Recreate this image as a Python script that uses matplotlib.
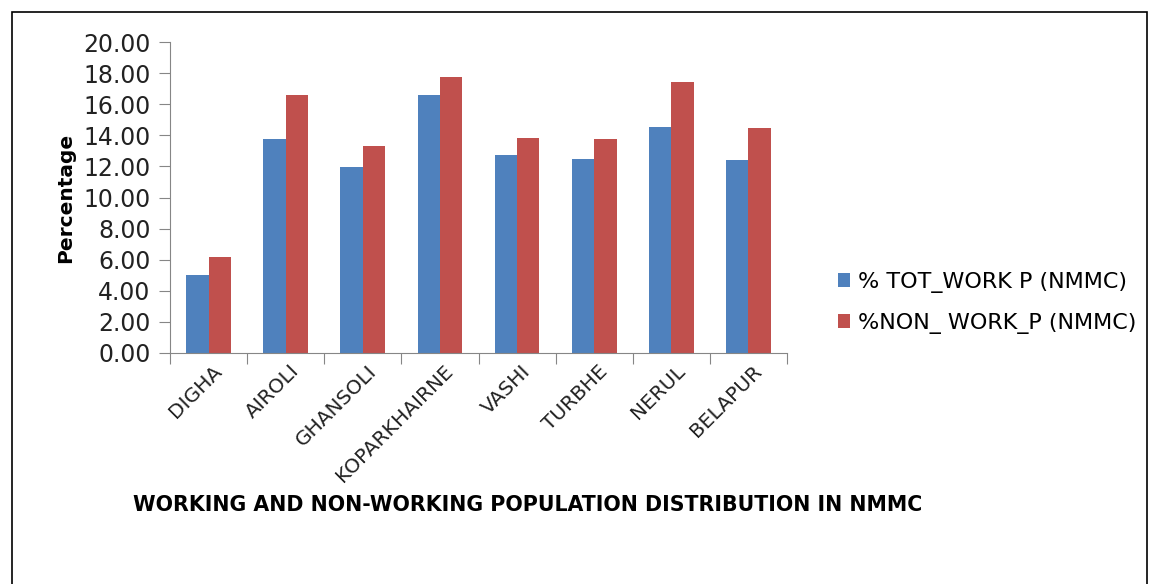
import matplotlib.pyplot as plt
import numpy as np
from matplotlib.patches import Rectangle

categories = ['DIGHA', 'AIROLI', 'GHANSOLI', 'KOPARKHAIRNE', 'VASHI', 'TURBHE', 'NERUL', 'BELAPUR']
tot_work = [5.04, 13.74, 11.98, 16.61, 12.71, 12.50, 14.56, 12.39]
non_work = [6.19, 16.61, 13.31, 17.75, 13.83, 13.74, 17.45, 14.45]
series_names = ['% TOT_WORK P (NMMC)', '%NON_ WORK_P (NMMC)']

fig = plt.figure(figsize=(11.51, 5.84), dpi=100)
ax = fig.add_axes([170/1151, 1 - 353/584, (787 - 170)/1151, (353 - 42)/584])

# border round the whole picture
fig.patches.append(Rectangle((12/1151, -0.1), (1147 - 12)/1151, 1.1 - 12/584,
                             transform=fig.transFigure, fill=False, edgecolor='black', lw=1.2))

x = np.arange(len(categories))
w = 0.29
ax.bar(x - w/2, tot_work, w, color='#4F81BD', label=series_names[0])
ax.bar(x + w/2, non_work, w, color='#C0504D', label=series_names[1])

ax.set_xlim(-0.5, len(categories) - 0.5)
ax.set_ylim(0, 20)
ax.set_yticks(np.arange(0, 21, 2))
ax.set_yticklabels(['%.2f' % v for v in np.arange(0, 21, 2)], fontsize=17, color='#222222')
ax.set_xticks(np.arange(-0.5, len(categories), 1))
ax.set_xticklabels([])
ax.set_xticks(x + 0.05, minor=True)
ax.set_xticklabels(categories, minor=True, rotation=45, ha='right', va='top',
                   rotation_mode='anchor', fontsize=14.5, color='#222222')
ax.tick_params(axis='x', which='minor', length=0, pad=6)
ax.tick_params(axis='x', which='major', length=8, color='#868686')
ax.tick_params(axis='y', length=8, color='#868686', pad=6)

for s in ['top', 'right']:
    ax.spines[s].set_visible(False)
for s in ['left', 'bottom']:
    ax.spines[s].set_color('#868686')

ax.set_ylabel('Percentage', fontsize=14.5, fontweight='bold', labelpad=6)

fig.legend(loc='upper left', bbox_to_anchor=(818/1151, 1 - 252/584), frameon=False,
           fontsize=16, handlelength=0.55, handleheight=0.55, handletextpad=0.35,
           labelspacing=0.9)

fig.text(133/1151, 1 - 505/584, 'WORKING AND NON-WORKING POPULATION DISTRIBUTION IN NMMC',
         fontsize=14.8, fontweight='bold', va='center', ha='left')

fig.savefig('out.png', dpi=100)
